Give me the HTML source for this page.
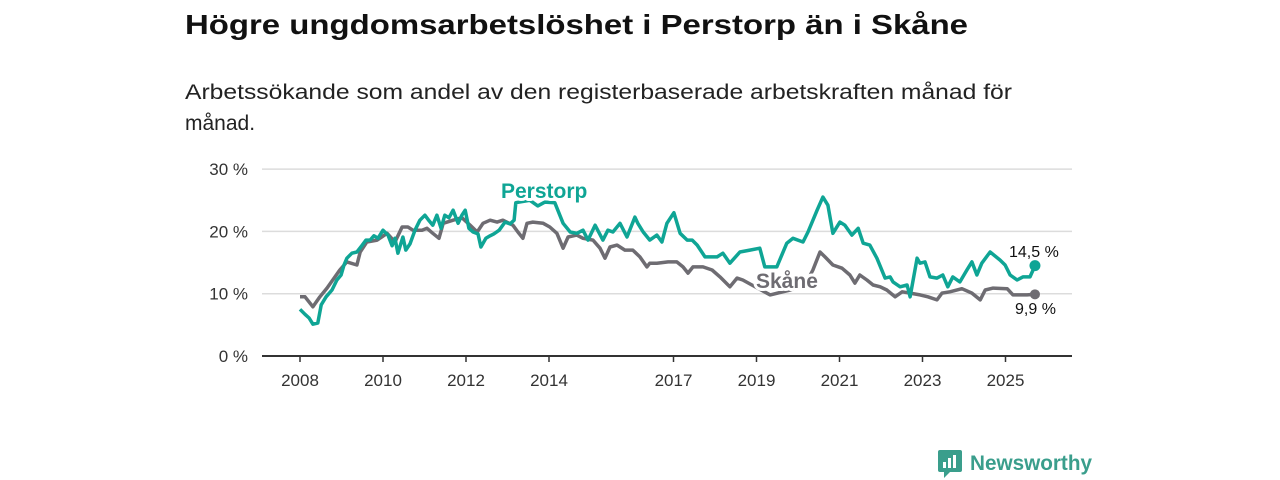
<!DOCTYPE html>
<html><head><meta charset="utf-8">
<style>
body{margin:0;background:#fff;width:1280px;height:480px;overflow:hidden;font-family:"Liberation Sans",sans-serif;}
svg{position:absolute;left:0;top:0}
</style></head>
<body>
<svg id="chart" width="1280" height="480">
<text x="185" y="34" font-size="28" font-weight="bold" fill="#111" textLength="783" lengthAdjust="spacingAndGlyphs">Högre ungdomsarbetslöshet i Perstorp än i Skåne</text>
<text x="185" y="99" font-size="21" fill="#222" textLength="827" lengthAdjust="spacingAndGlyphs">Arbetssökande som andel av den registerbaserade arbetskraften månad för</text>
<text x="185" y="130" font-size="21" fill="#222">månad.</text>
<g id="grid"></g><g id="axes"></g><g id="series"></g><g id="labels"></g>
<g>
<rect x="938" y="450" width="24" height="22" rx="2" fill="#3a9e8c"/>
<polygon points="944,472 950,472 944,478" fill="#3a9e8c"/>
<rect x="943" y="462" width="3" height="6" fill="#fff"/><rect x="948" y="458" width="3" height="10" fill="#fff"/><rect x="953" y="455" width="3" height="13" fill="#fff"/>
<text x="970" y="470" font-size="21" font-weight="bold" fill="#3a9e8c" textLength="122" lengthAdjust="spacingAndGlyphs">Newsworthy</text>
</g>
</svg>
<script>
const yTicks=[0,10,20,30];
const xTicks=[2008,2010,2012,2014,2017,2019,2021,2023,2025];
const perstorpDates=[2008.00,2008.12,2008.22,2008.31,2008.43,2008.51,2008.63,2008.77,2008.89,2008.99,2009.06,2009.13,2009.25,2009.37,2009.49,2009.59,2009.69,2009.78,2009.88,2010.00,2010.12,2010.22,2010.29,2010.36,2010.48,2010.55,2010.65,2010.77,2010.89,2011.01,2011.11,2011.20,2011.30,2011.40,2011.49,2011.59,2011.69,2011.81,2011.90,2011.98,2012.07,2012.17,2012.29,2012.36,2012.48,2012.58,2012.67,2012.80,2012.94,2013.06,2013.16,2013.20,2013.54,2013.73,2013.90,2014.14,2014.34,2014.51,2014.67,2014.82,2014.94,2015.11,2015.30,2015.42,2015.54,2015.71,2015.88,2016.07,2016.14,2016.27,2016.43,2016.60,2016.72,2016.84,2017.01,2017.16,2017.33,2017.45,2017.57,2017.76,2018.05,2018.19,2018.36,2018.60,2018.84,2019.08,2019.20,2019.49,2019.73,2019.88,2020.12,2020.24,2020.46,2020.60,2020.72,2020.84,2021.01,2021.13,2021.30,2021.45,2021.57,2021.73,2021.90,2022.10,2022.22,2022.29,2022.46,2022.63,2022.70,2022.87,2022.94,2023.06,2023.18,2023.35,2023.49,2023.61,2023.73,2023.90,2024.07,2024.19,2024.31,2024.43,2024.63,2024.87,2024.99,2025.11,2025.28,2025.42,2025.59,2025.71];
const perstorpValues=[7.5,6.7,6.1,5.1,5.3,8.2,9.5,10.6,12.2,13.0,14.6,15.7,16.5,16.7,17.7,18.6,18.6,19.3,18.9,20.2,19.4,17.7,18.9,16.5,19.1,17.0,18.0,20.2,21.8,22.6,21.7,21.0,22.6,20.5,22.6,22.2,23.4,21.3,22.6,23.4,20.5,19.9,19.6,17.5,18.9,19.3,19.6,20.2,21.5,21.2,21.8,24.6,25.0,24.1,24.7,24.6,21.3,19.9,19.7,20.2,18.6,21.0,18.6,20.2,19.9,21.3,19.1,22.3,21.3,19.9,18.6,19.4,18.3,21.3,23.0,19.7,18.6,18.6,17.8,15.9,15.9,16.5,14.9,16.7,17.0,17.3,14.3,14.3,18.1,18.9,18.3,19.9,23.4,25.5,24.2,19.7,21.5,21.0,19.4,20.5,18.1,17.8,15.7,12.5,12.7,11.9,11.1,11.4,9.5,15.7,14.9,15.1,12.7,12.5,13.0,11.1,12.7,11.9,13.8,15.1,13.0,14.9,16.7,15.4,14.6,13.0,12.2,12.7,12.7,14.5];
const skaneDates=[2008.00,2008.12,2008.31,2008.48,2008.65,2008.96,2009.13,2009.37,2009.45,2009.61,2009.86,2010.10,2010.29,2010.46,2010.60,2010.72,2010.94,2011.06,2011.20,2011.35,2011.45,2011.69,2011.90,2012.10,2012.27,2012.41,2012.58,2012.75,2012.89,2013.13,2013.25,2013.37,2013.47,2013.61,2013.86,2014.02,2014.19,2014.34,2014.46,2014.67,2014.82,2015.06,2015.23,2015.35,2015.47,2015.64,2015.83,2016.02,2016.19,2016.36,2016.43,2016.60,2016.87,2017.08,2017.23,2017.35,2017.47,2017.71,2017.93,2018.12,2018.36,2018.53,2018.67,2018.89,2019.33,2019.81,2020.17,2020.36,2020.53,2020.65,2020.84,2021.06,2021.25,2021.37,2021.49,2021.66,2021.81,2021.98,2022.14,2022.34,2022.51,2022.70,2022.94,2023.13,2023.35,2023.47,2023.66,2023.95,2024.19,2024.39,2024.51,2024.70,2025.04,2025.18,2025.52,2025.71];
const skaneValues=[9.5,9.5,7.9,9.5,10.9,13.8,15.1,14.6,16.7,18.3,18.6,19.7,18.3,20.7,20.7,20.2,20.2,20.5,19.7,18.9,21.3,21.8,22.2,21.0,19.9,21.3,21.8,21.5,21.8,21.0,19.9,18.9,21.3,21.5,21.3,20.7,19.7,17.3,19.1,19.4,18.9,18.6,17.3,15.7,17.5,17.8,17.0,17.0,15.9,14.3,14.9,14.9,15.1,15.1,14.3,13.3,14.3,14.3,13.8,12.7,11.1,12.5,12.2,11.4,9.8,10.6,11.4,13.8,16.7,15.9,14.6,14.1,13.0,11.7,13.0,12.2,11.4,11.1,10.6,9.5,10.3,10.1,9.8,9.5,9.0,10.1,10.3,10.8,10.1,9.0,10.6,10.9,10.8,9.8,9.8,9.9];
const NS='http://www.w3.org/2000/svg';
const X=d=>300+(d-2008)*41.5;
const Y=v=>356-v*6.23;
function mk(tag,attrs,parent,text){const e=document.createElementNS(NS,tag);for(const k in attrs)e.setAttribute(k,attrs[k]);if(text!==undefined)e.textContent=text;parent.appendChild(e);return e;}
const grid=document.getElementById('grid'),axes=document.getElementById('axes'),series=document.getElementById('series'),labels=document.getElementById('labels');
yTicks.forEach(t=>{
  if(t>0){const l=mk('line',{x1:262,x2:1072,y1:Y(t),y2:Y(t),stroke:'#dcdcdc','stroke-width':1.5},grid);
  
  }
  const tx=mk('text',{x:248,y:Y(t)+6,'text-anchor':'end','font-size':17,fill:'#333'},axes,t+' %');
  
  
});
const ax=mk('line',{x1:262,x2:1072,y1:356,y2:356,stroke:'#333','stroke-width':2},axes);


xTicks.forEach(t=>{
  mk('line',{x1:X(t),x2:X(t),y1:356,y2:362,stroke:'#333','stroke-width':1.5},axes);
  const tx=mk('text',{x:X(t),y:386,'text-anchor':'middle','font-size':17,fill:'#333'},axes,t);
  
  
});
function path(ds,vs){return ds.map((d,i)=>(i?'L':'M')+X(d).toFixed(1)+','+Y(vs[i]).toFixed(1)).join('');}
const sk=mk('path',{d:path(skaneDates,skaneValues),fill:'none',stroke:'#6e6c72','stroke-width':3.5,'stroke-linejoin':'round'},series);


const pe=mk('path',{d:path(perstorpDates,perstorpValues),fill:'none',stroke:'#0fa595','stroke-width':3.5,'stroke-linejoin':'round'},series);


const sl=skaneDates.length-1,pl=perstorpDates.length-1;
const d1=mk('circle',{cx:X(skaneDates[sl]),cy:Y(skaneValues[sl]),r:5,fill:'#6e6c72'},series);


const d2=mk('circle',{cx:X(perstorpDates[pl]),cy:Y(perstorpValues[pl]),r:5.5,fill:'#0fa595'},series);


function lab(x,y,t,fill,size,bold,name){const e=mk('text',{x:x,y:y,'font-size':size,'font-weight':bold?'bold':'normal',fill:fill,stroke:'#fff','stroke-width':6,'paint-order':'stroke','stroke-linejoin':'round'},labels,t);

}
lab(501,198,'Perstorp','#0fa595',21,true,'perstorp-label');
lab(756,288,'Skåne','#6e6c72',21,true,'skane-label');
lab(1009,257,perstorpValues[pl].toFixed(1).replace('.',',')+' %','#111',16,false,'perstorp-value-label');
lab(1015,314,skaneValues[sl].toFixed(1).replace('.',',')+' %','#111',16,false,'skane-value-label');
</script>
</body></html>
